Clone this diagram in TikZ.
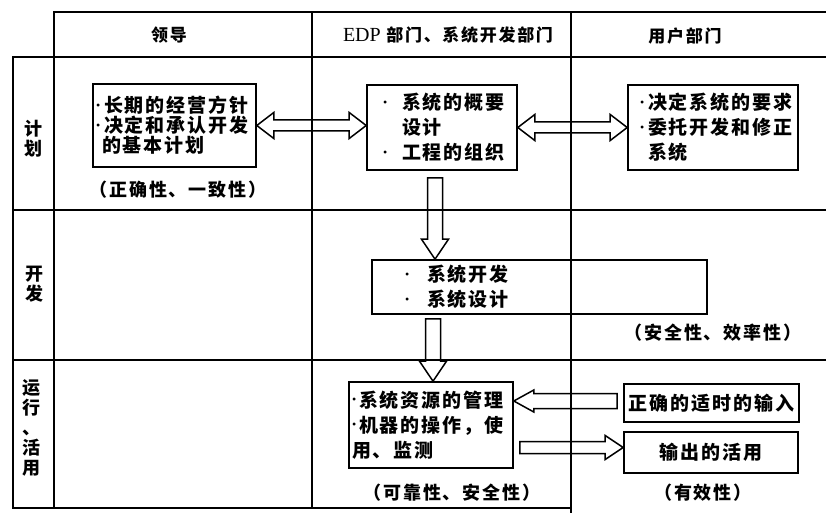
\documentclass[tikz,border=0pt]{standalone}
\usepackage{fontspec}
\usetikzlibrary{calc}
\setmainfont{Liberation Serif}
\newfontfamily\cjk{Noto Sans CJK SC}[LetterSpace=10]
\newcommand\bul[1][8pt]{\makebox[#1][l]{\raisebox{3.5pt}{\normalfont\fontsize{12}{12}\selectfont\textbullet}}}
% block arrows
\newcommand\hdarrow[2]{\draw[blk] let \p1=#1, \p2=#2 in
  (\x1,\y1) -- (\x1+17pt,\y1+13pt) -- (\x1+17pt,\y1+5.5pt) -- (\x2-17pt,\y1+5.5pt) -- (\x2-17pt,\y1+13pt)
  -- (\x2,\y1) -- (\x2-17pt,\y1-13pt) -- (\x2-17pt,\y1-5.5pt) -- (\x1+17pt,\y1-5.5pt) -- (\x1+17pt,\y1-13pt) -- cycle;}
\newcommand\vdarrow[2]{\draw[blk] let \p1=#1, \p2=#2 in
  (\x1-7.5pt,\y1) -- (\x1+7.5pt,\y1) -- (\x1+7.5pt,\y2+20pt) -- (\x1+13.5pt,\y2+20pt) -- (\x1,\y2)
  -- (\x1-13.5pt,\y2+20pt) -- (\x1-7.5pt,\y2+20pt) -- cycle;}
\newcommand\hlarrow[2]{\draw[blk] let \p1=#1, \p2=#2 in
  (\x1,\y1+7.5pt) -- (\x2+20pt,\y1+7.5pt) -- (\x2+20pt,\y1+11pt) -- (\x2,\y1) -- (\x2+20pt,\y1-11pt)
  -- (\x2+20pt,\y1-7.5pt) -- (\x1,\y1-7.5pt) -- cycle;}
\newcommand\hrarrow[2]{\draw[blk] let \p1=#1, \p2=#2 in
  (\x1,\y1+6pt) -- (\x2-18pt,\y1+6pt) -- (\x2-18pt,\y1+12pt) -- (\x2,\y1) -- (\x2-18pt,\y1-12pt)
  -- (\x2-18pt,\y1-6pt) -- (\x1,\y1-6pt) -- cycle;}
\tikzset{
  gridline/.style={line width=1.6pt, line cap=rect},
  box/.style={draw, line width=1.6pt, align=left, inner ysep=0pt,
    font=\cjk\bfseries\fontsize{19}{25}\selectfont},
  blk/.style={draw, line width=1.5pt, line join=miter},
  lbl/.style={font=\cjk\bfseries\fontsize{18}{20}\selectfont, align=center, inner sep=0pt},
  note/.style={font=\cjk\bfseries\fontsize{18}{20}\selectfont, inner sep=0pt},
  hdr/.style={font=\cjk\bfseries\fontsize{17}{20}\selectfont, inner sep=0pt},
}
\begin{document}
\begin{tikzpicture}[x=1pt, y=-1pt]
\useasboundingbox (0,0) rectangle (826,513);
% table grid
\draw[gridline] (54,12) -- (826,12);
\draw[gridline] (13,57) -- (826,57);
\draw[gridline] (13,57) -- (13,508) -- (571,508);
\draw[gridline] (54,12) -- (54,508);
\draw[gridline] (312,12) -- (312,508);
\draw[gridline] (571,12) -- (571,513);
\draw[gridline] (13,210) -- (826,210);
\draw[gridline] (13,360) -- (826,360);
% headers
\node[hdr] (h1) at (169,35) {领导};
\node[hdr] (h2) at (448,35) {{\rmfamily\mdseries\fontsize{20}{20}\selectfont EDP} 部门、系统开发部门};
\node[hdr] (h3) at (685,36) {用户部门};
% row labels
\node[lbl] (r1) at (33,139) {计\\划};
\node[lbl] (r2) at (34,284) {开\\发};
\node[lbl] (r3) at (31,428) {运\\行\\、\\活\\用};
% boxes
\node[box, text width=157pt, inner xsep=3pt, minimum height=83pt,
  font=\cjk\bfseries\fontsize{19}{20}\selectfont] (A) at (174.5,125.5)
  {\bul 长期的经营方针\\\bul 决定和承认开发\\\hspace*{6pt}的基本计划};
\node[box, text width=118pt, inner xsep=16pt, minimum height=85pt] (B) at (442,127.5)
  {\bul[19pt]系统的概要\\\hspace*{19pt}设计\\\bul[19pt]工程的组织};
\node[box, text width=146pt, inner xsep=12pt, minimum height=85pt] (C) at (713,127.5)
  {\bul 决定系统的要求\\\bul 委托开发和修正\\\hspace*{8pt}系统};
\node[box, text width=269pt, inner xsep=33pt, minimum height=54pt] (D) at (539.5,287)
  {\bul[22pt]系统开发\\\bul[22pt]系统设计};
\node[box, text width=158pt, inner xsep=3pt, minimum height=86pt] (E) at (431,425)
  {\bul[7pt]系统资源的管理\\\bul[7pt]机器的操作，使\\用、监测};
\node[box, minimum width=175pt, minimum height=38pt, inner xsep=2pt] (F) at (711.5,403)
  {正确的适时的输入};
\node[box, minimum width=174pt, minimum height=41pt] (G) at (711,452.5)
  {输出的活用};
% notes
\node[note] (n1) at (178,190) {（正确性、一致性）};
\node[note] (n2) at (713,333) {（安全性、效率性）};
\node[note] (n3) at (452,493) {（可靠性、安全性）};
\node[note] (n4) at (703,493) {（有效性）};
% block arrows
\hdarrow{(A.east)}{(B.west)}
\hdarrow{(B.east)}{(C.west)}
\vdarrow{($(B.south)+(-7,7)$)}{(D.north)}
\vdarrow{($(D.south -| E.north)+(2,4)$)}{(E.north)}
\hlarrow{($(F.west)+(-6,-2)$)}{(E.east)}
\hrarrow{($(E.east |- G.west)+(6,-5)$)}{(G.west)}
\end{tikzpicture}
\end{document}
